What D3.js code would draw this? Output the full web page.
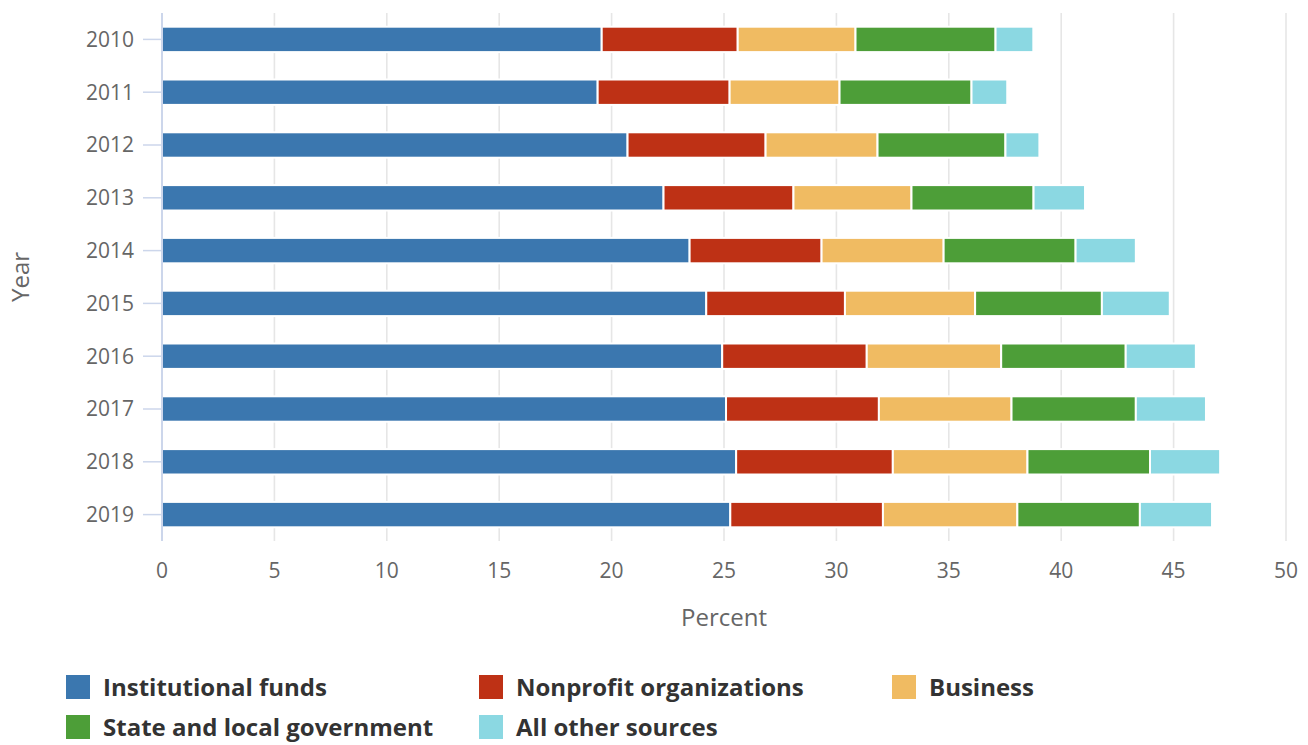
<!DOCTYPE html>
<html><head><meta charset="utf-8">
<script src="https://cdn.jsdelivr.net/npm/d3@7"></script>
<style>
html,body{margin:0;padding:0;background:#fff;}
svg{display:block;font-family:"Open Sans",sans-serif;}
</style></head>
<body>
<svg id="chart" width="1308" height="745"></svg>
<script>
const years = ["2010","2011","2012","2013","2014","2015","2016","2017","2018","2019"];
const seriesNames = ["Institutional funds","Nonprofit organizations","Business","State and local government","All other sources"];
const seriesColors = ["#3b77af","#be3115","#f0bb62","#4d9e38","#8bd8e2"];
const institutional = [19.56,19.38,20.71,22.31,23.47,24.21,24.92,25.09,25.54,25.28];
const nonprofit     = [6.05,5.87,6.14,5.78,5.87,6.17,6.43,6.80,6.97,6.79];
const business      = [5.24,4.89,4.98,5.25,5.43,5.79,5.98,5.90,5.99,5.98];
const stateLocal    = [6.23,5.87,5.69,5.43,5.87,5.64,5.54,5.53,5.45,5.45];
const otherSources  = [1.68,1.59,1.51,2.29,2.68,3.02,3.12,3.12,3.12,3.21];
const xTicks = [0,5,10,15,20,25,30,35,40,45,50];

const seriesValues = [institutional, nonprofit, business, stateLocal, otherSources];
const rows = years.map((yr,i)=>{
  const o = {year:yr};
  seriesNames.forEach((s,j)=>{ o[s] = seriesValues[j][i]; });
  return o;
});

const svg = d3.select("#chart");
const plotL = 162, plotR = 1286, plotT = 13, plotB = 541;

const x = d3.scaleLinear().domain([0,50]).range([plotL,plotR]);
const y = d3.scaleBand().domain(years).range([plotT,plotB]).paddingInner(0.52).paddingOuter(0.26);

// gridlines
svg.append("g").selectAll("line").data(xTicks.filter(d=>d>0)).join("line")
  .attr("x1",d=>x(d)).attr("x2",d=>x(d)).attr("y1",plotT).attr("y2",plotB)
  .attr("stroke","#e6e6e6").attr("stroke-width",1.6);

// bars
const stack = d3.stack().keys(seriesNames)(rows);
const barH = 25.4;
svg.append("g").selectAll("g").data(stack).join("g")
  .attr("fill",(d,i)=>seriesColors[i])
  .selectAll("rect").data(d=>d).join("rect")
  .attr("x",d=>x(d[0])).attr("width",d=>x(d[1])-x(d[0]))
  .attr("y",d=>y(d.data.year)+y.bandwidth()/2-barH/2).attr("height",barH)
  .attr("stroke","#fff").attr("stroke-width",2);

// y axis line
svg.append("line").attr("x1",plotL).attr("x2",plotL).attr("y1",plotT).attr("y2",plotB)
  .attr("stroke","#ccd6eb").attr("stroke-width",2);

// y ticks and labels
const yg = svg.append("g");
yg.selectAll("line").data(years).join("line")
  .attr("x1",143).attr("x2",plotL).attr("y1",d=>y(d)+y.bandwidth()/2).attr("y2",d=>y(d)+y.bandwidth()/2)
  .attr("stroke","#ccd6eb").attr("stroke-width",1.5);
yg.selectAll("text").data(years).join("text")
  .attr("x",134).attr("y",d=>y(d)+y.bandwidth()/2).attr("dy","0.35em")
  .attr("text-anchor","end").attr("fill","#666").attr("font-size",21).text(d=>d);

// x tick labels
svg.append("g").selectAll("text").data(xTicks).join("text")
  .attr("x",d=>x(d)).attr("y",571).attr("dy","0.35em").attr("text-anchor","middle")
  .attr("fill","#666").attr("font-size",21).text(d=>d);

// axis titles
svg.append("text").attr("x",(plotL+plotR)/2).attr("y",618).attr("dy","0.35em")
  .attr("text-anchor","middle").attr("fill","#666").attr("font-size",24).text("Percent");
svg.append("text").attr("transform",`translate(21,${(plotT+plotB)/2}) rotate(-90)`)
  .attr("dy","0.35em").attr("text-anchor","middle").attr("fill","#666").attr("font-size",24).text("Year");

// legend
const legendPos = [[66,675],[479,675],[892,675],[66,715],[479,715]];
const lg = svg.append("g").selectAll("g").data(seriesNames).join("g")
  .attr("transform",(d,i)=>`translate(${legendPos[i][0]},${legendPos[i][1]})`);
lg.append("rect").attr("width",24).attr("height",24).attr("fill",(d,i)=>seriesColors[i]);
lg.append("text").attr("x",37).attr("y",13).attr("dy","0.35em").attr("fill","#333")
  .attr("font-size",24).attr("font-weight",700).text(d=>d);
</script>
</body></html>
